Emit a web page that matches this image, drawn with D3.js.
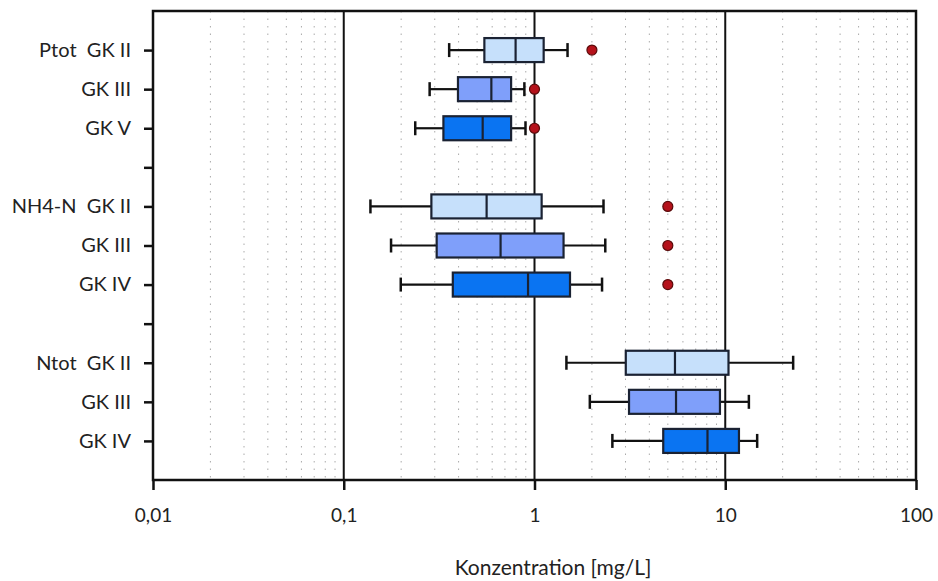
<!DOCTYPE html>
<html lang="de">
<head>
<meta charset="UTF-8">
<title>Konzentration</title>
<script src="https://d3js.org/d3.v7.min.js"></script>
<style>
  html, body { margin: 0; padding: 0; background: #fff; }
  svg { display: block; font-family: Lato, "Open Sans", sans-serif; }
  .ylab { font-size: 20px; fill: #222; white-space: pre; }
  .xlab { font-size: 19px; fill: #222; }
  .title { font-size: 21px; fill: #222; }
</style>
</head>
<body>
<svg width="938" height="581"></svg>
<script>
// rows (blank strings are spacer rows)
const categories = ["Ptot  GK II", "GK III", "GK V", "", "NH4-N  GK II", "GK III", "GK IV", "", "Ntot  GK II", "GK III", "GK IV"];
const groups     = [0, 1, 2, -1, 0, 1, 2, -1, 0, 1, 2];
const whiskerLow  = [0.357, 0.282, 0.237, null, 0.138, 0.177, 0.199, null, 1.47, 1.95, 2.56];
const q1          = [0.546, 0.397, 0.333, null, 0.288, 0.307, 0.373, null, 3.01, 3.13, 4.73];
const median      = [0.796, 0.594, 0.535, null, 0.561, 0.664, 0.925, null, 5.45, 5.52, 8.07];
const q3          = [1.117, 0.754, 0.754, null, 1.09, 1.42, 1.535, null, 10.4, 9.38, 11.8];
const whiskerHigh = [1.49, 0.885, 0.897, null, 2.30, 2.35, 2.26, null, 22.7, 13.3, 14.7];
const outliers    = [2.0, 1.0, 1.0, null, 5.0, 5.0, 5.0, null, null, null, null];
const xTicks = [0.01, 0.1, 1, 10, 100];
const xTickLabels = ["0,01", "0,1", "1", "10", "100"];
const colors = ["#c6e0fb", "#7f9ffa", "#0a74f2"];

const svg = d3.select("svg");
const pLeft = 153, pRight = 916, pTop = 11, pBottom = 480;

const x = d3.scaleLog().domain([0.01, 100]).range([pLeft, pRight]);
const y = d3.scalePoint().domain(d3.range(categories.length)).range([pTop, pBottom]).padding(1);

// minor dotted grid
const minor = [];
[0.01, 0.1, 1, 10].forEach(d => { for (let k = 2; k <= 9; k++) minor.push(d * k); });
svg.append("g").selectAll("line").data(minor).join("line")
  .attr("x1", d => x(d)).attr("x2", d => x(d))
  .attr("y1", pTop).attr("y2", pBottom)
  .attr("stroke", "#aaa").attr("stroke-width", 1)
  .attr("stroke-dasharray", "1.5,6");

// major gridlines
svg.append("g").selectAll("line").data([0.1, 1, 10]).join("line")
  .attr("x1", d => x(d)).attr("x2", d => x(d))
  .attr("y1", pTop).attr("y2", pBottom)
  .attr("stroke", "#111").attr("stroke-width", 2);

// x axis
const xAxis = svg.append("g").attr("transform", `translate(0,${pBottom})`)
  .call(d3.axisBottom(x).tickValues(xTicks).tickSize(10).tickFormat((d, i) => xTickLabels[i]));
xAxis.select(".domain").remove();
xAxis.attr("font-size", null).attr("font-family", null);
xAxis.selectAll(".tick line").attr("stroke", "#111").attr("stroke-width", 2.5);
xAxis.selectAll(".tick text").attr("class", "xlab").attr("y", 42).attr("dy", 0);

// y axis
const yAxis = svg.append("g").attr("transform", `translate(${pLeft},0)`)
  .call(d3.axisLeft(y).tickSize(9).tickPadding(13).tickFormat(i => categories[i]));
yAxis.select(".domain").remove();
yAxis.attr("font-size", null).attr("font-family", null);
yAxis.selectAll(".tick line").attr("stroke", "#111").attr("stroke-width", 2.5);
yAxis.selectAll(".tick text").attr("class", "ylab");

// frame
svg.append("rect").attr("x", pLeft).attr("y", pTop)
  .attr("width", pRight - pLeft).attr("height", pBottom - pTop)
  .attr("fill", "none").attr("stroke", "#111").attr("stroke-width", 2.5);

// boxes
const rows = d3.range(categories.length).filter(i => q1[i] != null);
const bh = 24;
const g = svg.append("g");
rows.forEach(i => {
  const cy = y(i);
  const row = g.append("g").attr("stroke", "#111").attr("stroke-width", 2.2);
  row.append("line").attr("x1", x(whiskerLow[i])).attr("x2", x(q1[i])).attr("y1", cy).attr("y2", cy);
  row.append("line").attr("x1", x(q3[i])).attr("x2", x(whiskerHigh[i])).attr("y1", cy).attr("y2", cy);
  row.append("line").attr("x1", x(whiskerLow[i])).attr("x2", x(whiskerLow[i])).attr("y1", cy - 7).attr("y2", cy + 7).attr("stroke-width", 2.5);
  row.append("line").attr("x1", x(whiskerHigh[i])).attr("x2", x(whiskerHigh[i])).attr("y1", cy - 7).attr("y2", cy + 7).attr("stroke-width", 2.5);
  row.append("rect").attr("x", x(q1[i])).attr("y", cy - bh / 2)
    .attr("width", x(q3[i]) - x(q1[i])).attr("height", bh)
    .attr("fill", colors[groups[i]]).attr("stroke", "#1a2233");
  row.append("line").attr("x1", x(median[i])).attr("x2", x(median[i]))
    .attr("y1", cy - bh / 2).attr("y2", cy + bh / 2).attr("stroke", "#1a2233");
  if (outliers[i] != null) {
    row.append("circle").attr("cx", x(outliers[i])).attr("cy", cy).attr("r", 5)
      .attr("fill", "#b5121b").attr("stroke", "#5a0a0a").attr("stroke-width", 1.2);
  }
});

// axis title
svg.append("text").attr("class", "title")
  .attr("x", 553).attr("y", 575).attr("text-anchor", "middle")
  .text("Konzentration [mg/L]");
</script>
</body>
</html>
